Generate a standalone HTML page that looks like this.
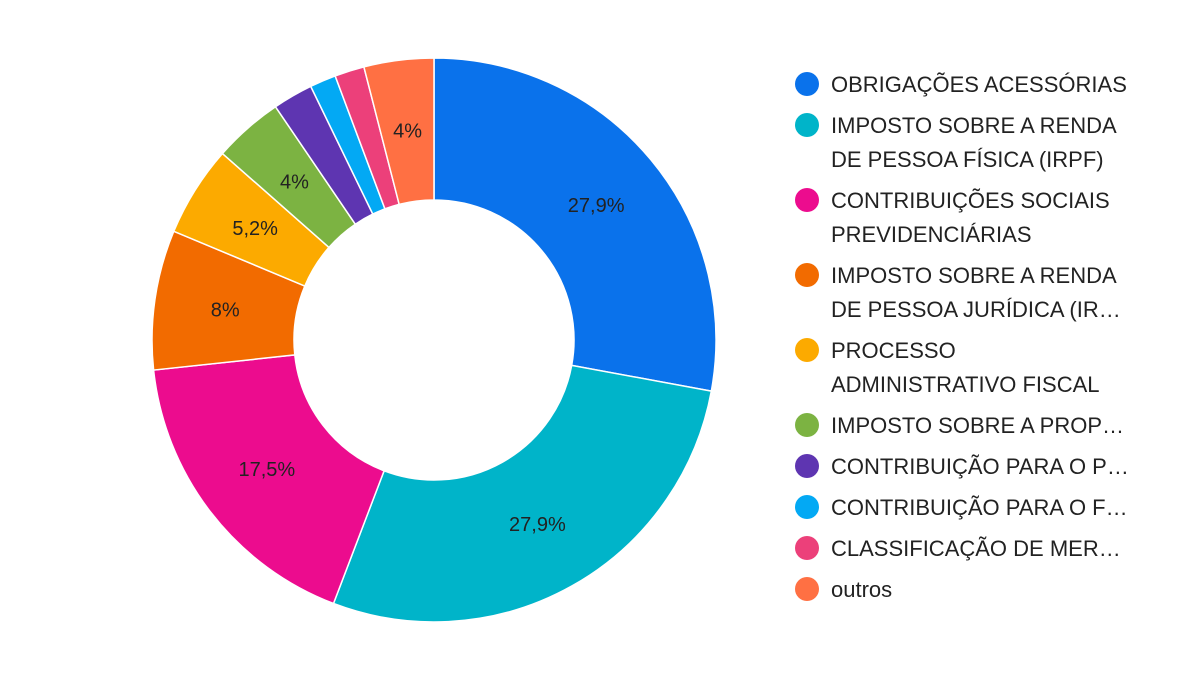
<!DOCTYPE html>
<html><head><meta charset="utf-8"><style>
body{margin:0;background:#fff;width:1200px;height:675px;overflow:hidden;font-family:"Liberation Sans",sans-serif}
</style></head><body>
<svg id="chart" width="1200" height="675" xmlns="http://www.w3.org/2000/svg">
<rect width="1200" height="675" fill="#fff"/>
<g id="slices"></g>
<g id="labels"></g>
<g id="legend"></g>
</svg>
<script>
const categories=[["OBRIGAÇÕES ACESSÓRIAS"],["IMPOSTO SOBRE A RENDA","DE PESSOA FÍSICA (IRPF)"],["CONTRIBUIÇÕES SOCIAIS","PREVIDENCIÁRIAS"],["IMPOSTO SOBRE A RENDA","DE PESSOA JURÍDICA (IR…"],["PROCESSO","ADMINISTRATIVO FISCAL"],["IMPOSTO SOBRE A PROP…"],["CONTRIBUIÇÃO PARA O P…"],["CONTRIBUIÇÃO PARA O F…"],["CLASSIFICAÇÃO DE MER…"],["outros"]];
const values=[27.9,27.9,17.5,8,5.2,4,2.3,1.5,1.7,4];
const valueLabels=["27,9%","27,9%","17,5%","8%","5,2%","4%","","","","4%"];
const colors=["#0a72eb","#00b4c9","#ec0c8e","#f26b00","#fcaa00","#7cb342","#5e35b1","#03a9f4","#ec407a","#ff7043"];
const NS="http://www.w3.org/2000/svg";
const cx=434,cy=340,R=282,r=140;
const total=values.reduce((a,b)=>a+b,0);
function pt(a,rad){return [cx+rad*Math.sin(a),cy-rad*Math.cos(a)];}
let acc=0;
const sg=document.getElementById('slices'),lg=document.getElementById('labels'),leg=document.getElementById('legend');
values.forEach((v,i)=>{
  const a0=acc/total*2*Math.PI; acc+=v; const a1=acc/total*2*Math.PI;
  const large=(a1-a0)>Math.PI?1:0;
  const p0=pt(a0,R),p1=pt(a1,R),q1=pt(a1,r),q0=pt(a0,r);
  const p=document.createElementNS(NS,'path');
  p.setAttribute('d',`M${p0[0]},${p0[1]}A${R},${R} 0 ${large} 1 ${p1[0]},${p1[1]}L${q1[0]},${q1[1]}A${r},${r} 0 ${large} 0 ${q0[0]},${q0[1]}Z`);
  p.setAttribute('fill',colors[i]);p.setAttribute('stroke','#fff');p.setAttribute('stroke-width','1.5');
  
  
  sg.appendChild(p);
  if(valueLabels[i]){
    const m=pt((a0+a1)/2,(R+r)/2);
    const t=document.createElementNS(NS,'text');
    t.setAttribute('x',m[0]);t.setAttribute('y',m[1]+7);t.setAttribute('text-anchor','middle');
    t.setAttribute('font-size','20');t.setAttribute('fill','#222');t.textContent=valueLabels[i];
    
    
    lg.appendChild(t);
  }
});
let y=84;
categories.forEach((lines,i)=>{
  const g=document.createElementNS(NS,'g');
  
  
  const c=document.createElementNS(NS,'circle');
  c.setAttribute('cx',807);c.setAttribute('cy',y);c.setAttribute('r',12);c.setAttribute('fill',colors[i]);
  g.appendChild(c);
  lines.forEach((ln,j)=>{
    const t=document.createElementNS(NS,'text');
    t.setAttribute('x',831);t.setAttribute('y',y+8+j*34);t.setAttribute('font-size','22');t.setAttribute('fill','#222');
    t.textContent=ln;g.appendChild(t);
  });
  leg.appendChild(g);
  y+=41+(lines.length-1)*34;
});
</script>
</body></html>
